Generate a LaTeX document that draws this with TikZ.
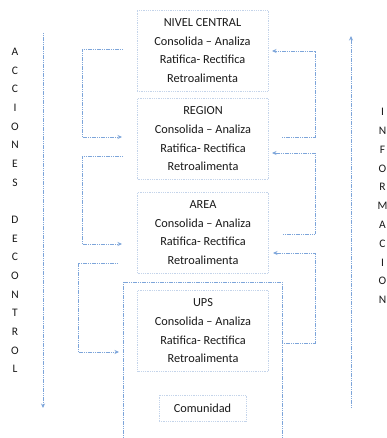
\documentclass[tikz,border=0pt]{standalone}
\usepackage{fontspec}
\setmainfont{Carlito}
\usetikzlibrary{arrows.meta}
\definecolor{lineblue}{RGB}{125,165,218}
\definecolor{boxblue}{RGB}{196,212,234}
\definecolor{txt}{RGB}{25,25,25}
\tikzset{
  lvl/.style={draw=boxblue, densely dotted, line width=0.8pt, minimum width=131pt, minimum height=81pt,
    align=center, inner sep=0pt, text=txt, font=\fontsize{12.3pt}{18.7pt}\selectfont},
  conn/.style={draw=lineblue, line width=0.8pt, dash pattern=on 1.2pt off 0.6pt},
  arr/.style={conn, -{Stealth[length=4.5pt,width=4pt]}},
  letter/.style={text=txt, font=\fontsize{11.5pt}{13pt}\selectfont, inner sep=0pt}
}
\begin{document}
\begin{tikzpicture}[x=1pt,y=-1pt]
\useasboundingbox (0,0) rectangle (387,438);
% level boxes
\node[lvl] (nivel) at (202.5,50.5) {NIVEL CENTRAL\\Consolida -- Analiza\\Ratifica- Rectifica\\Retroalimenta};
\node[lvl] (region) at (203,139) {REGION\\Consolida -- Analiza\\Ratifica- Rectifica\\Retroalimenta};
\node[lvl] (area) at (203,232.5) {AREA\\Consolida -- Analiza\\Ratifica- Rectifica\\Retroalimenta};
\node[lvl] (ups) at (203,331) {UPS\\Consolida -- Analiza\\Ratifica- Rectifica\\Retroalimenta};
\node[lvl, minimum width=87pt, minimum height=26pt] (com) at (202.5,408) {Comunidad};
% open frame around UPS
\coordinate (fbl) at (123,438);
\coordinate (ftl) at (123,282);
\coordinate (ftr) at (282,282);
\coordinate (fbr) at (282,438);
\draw[conn] (fbl) -- (ftl) -- (ftr) -- (fbr);
% left long arrow
\coordinate (lt) at (43,33);
\coordinate (lb) at (43,408);
\draw[arr] (lt) -- (lb);
% right long arrow
\coordinate (rb) at (351,408);
\coordinate (rt) at (351,36);
\draw[arr] (rb) -- (rt);
% left connectors
\coordinate (a1s) at (123,49);  \coordinate (a1e) at (122,137);
\coordinate (a2s) at (123,156); \coordinate (a2e) at (122,244);
\coordinate (a3s) at (118,263); \coordinate (a3e) at (119,352);
\draw[arr] (a1s) -- (82,49) -- (82,137) -- (a1e);
\draw[arr] (a2s) -- (82,156) -- (82,244) -- (a2e);
\draw[arr] (a3s) -- (78,263) -- (78,352) -- (a3e);
% right connectors
\coordinate (b1s) at (282,137); \coordinate (b1e) at (272,51);
\coordinate (b2s) at (283,234); \coordinate (b2e) at (272,153);
\coordinate (b3s) at (282,343); \coordinate (b3e) at (273,253);
\draw[arr] (b1s) -- (315,137) -- (315,51) -- (b1e);
\draw[arr] (b2s) -- (315,234) -- (315,153) -- (b2e);
\draw[arr] (b3s) -- (315,343) -- (315,253) -- (b3e);
% left vertical text
\foreach \l [count=\i] in {A,C,C,I,O,N,E,S,{},D,E,C,O,N,T,R,O,L}
  \node[letter] (lv\i) at (15,{52+18.65*(\i-1)}) {\l};
% right vertical text
\foreach \l [count=\i] in {I,N,F,O,R,M,A,C,I,O,N}
  \node[letter] (rv\i) at (382.5,{112+18.8*(\i-1)}) {\l};
\end{tikzpicture}
\end{document}
